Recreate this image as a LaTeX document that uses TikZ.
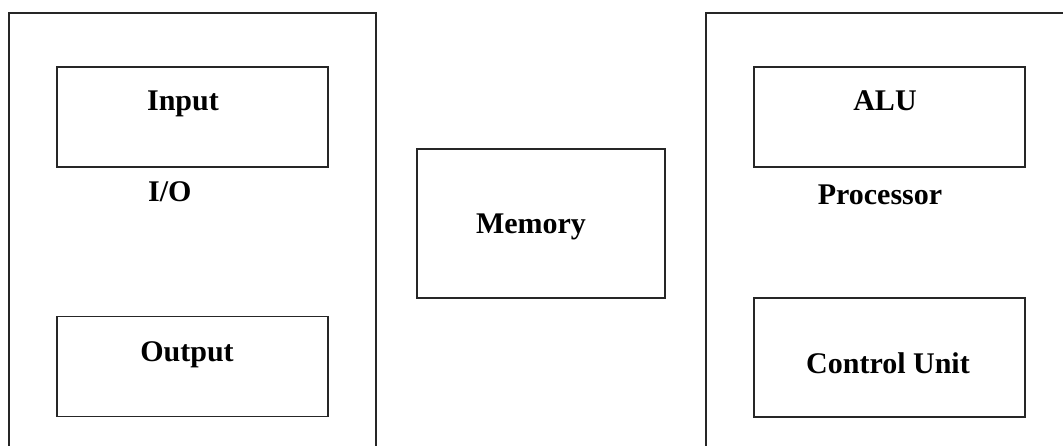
\documentclass[tikz,border=0pt]{standalone}
\usepackage{fontspec}
\setmainfont{Liberation Serif}
\begin{document}
\begin{tikzpicture}[x=1pt,y=-1pt,
  unit/.style={draw=black!85,line width=1.8pt,minimum width=271pt,minimum height=100pt,inner sep=0pt},
  frame/.style={draw=black!85,line width=1.8pt},
  lbl/.style={anchor=base,inner sep=0pt,font=\fontsize{30}{32}\selectfont\bfseries}]
\useasboundingbox (0,0) rectangle (1063,446);
% outer groups, open at the bottom
\draw[frame] (9,447) -- (9,13) -- (376,13) -- (376,447);
\draw[frame] (706,447) -- (706,13) -- (1064,13);
% boxes
\node[unit] (input) at (192.5,117) {};
\node[unit] (output) at (192.5,366.5) {};
\node[unit,minimum width=248pt,minimum height=149pt] (memory) at (541,223.5) {};
\node[unit] (alu) at (889.5,117) {};
\node[unit,minimum height=119pt] (cu) at (889.5,357.5) {};
% labels
\node[lbl] (tin) at (183,111) {Input};
\node[lbl,anchor=base west] (tio) at (148,202) {I/O};
\node[lbl] (tout) at (187,362) {Output};
\node[lbl] (tmem) at (531,234) {Memory};
\node[lbl] (talu) at (885,111) {ALU};
\node[lbl] (tproc) at (880,205) {Processor};
\node[lbl] (tcu) at (888,373) {Control Unit};
\end{tikzpicture}
\end{document}
